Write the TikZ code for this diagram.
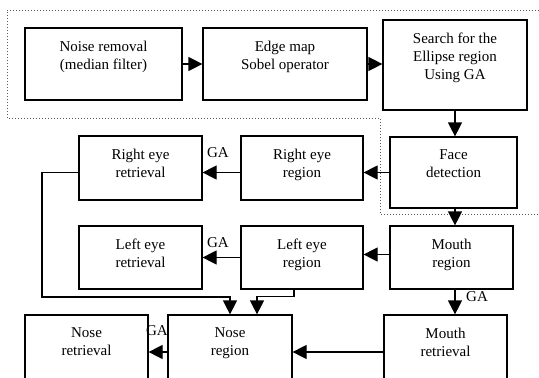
\documentclass[tikz,border=0pt]{standalone}
\usepackage{fontspec}
\setmainfont{Liberation Serif}
\usetikzlibrary{arrows.meta}
\begin{document}
\begin{tikzpicture}[x=1pt, y=-1pt,
		font=\fontsize{15}{18}\selectfont,
		box/.style={draw, line width=1.2pt, inner sep=0pt},
		lbl/.style={anchor=north, align=center, inner sep=0pt, yshift=-13.5pt},
		txt/.style={label={[lbl]north:#1}},
		arr/.style={line width=1.2pt, -{Triangle[length=14pt, width=14pt]}},
		ga/.style={inner sep=0pt}]
		\useasboundingbox (0,0) rectangle (539,378);
		
		% dotted region
		\draw[dotted, gray!70!black, line width=1pt] (539,10) -- (7,10) -- (7,118) -- (380,118) -- (380,214) -- (539,214);
		
		\node[box, minimum width=157, minimum height=72, txt={Noise removal\\(median filter)}] (noise) at (103.5,64) {};
		\node[box, minimum width=164, minimum height=72, txt={Edge map\\Sobel operator}] (edge) at (285,64) {};
		\node[box, minimum width=144, minimum height=90, txt={Search for the\\Ellipse region\\Using GA}] (search) at (455,65) {};
		\node[box, minimum width=127, minimum height=71, txt={Face\\detection}] (face) at (453.5,172.5) {};
		\node[box, minimum width=122, minimum height=64, txt={Right eye\\region}] (rreg) at (302,168) {};
		\node[box, minimum width=123, minimum height=64, txt={Right eye\\retrieval}] (rretr) at (140.5,168) {};
		\node[box, minimum width=123, minimum height=63, txt={Left eye\\retrieval}] (lretr) at (140.5,257.5) {};
		\node[box, minimum width=122, minimum height=63, txt={Left eye\\region}] (lreg) at (302,257.5) {};
		\node[box, minimum width=123, minimum height=63, txt={Mouth\\region}] (mreg) at (451.5,257.5) {};
		\node[box, minimum width=123, minimum height=74, txt={Nose\\retrieval}] (nretr) at (86.5,352) {};
		\node[box, minimum width=124, minimum height=74, txt={Nose\\region}] (nreg) at (230,352) {};
		\node[box, minimum width=123, minimum height=74, txt={Mouth\\retrieval}] (mretr) at (445.5,352) {};
		
		\draw[arr] (noise.east) -- (edge.west);
		\draw[arr] (edge.east) -- (edge.east -| search.west);
		\draw[arr] (search.south) -- (search.south |- face.north);
		\draw[arr] (face.west) -- (face.west -| rreg.east);
		\draw[arr] (rreg.west |- face.west) -- (rretr.east |- face.west);
		\draw[arr] (search.south |- face.south) -- (search.south |- mreg.north);
		\draw[arr] ([yshift=3pt]mreg.west) -- ([yshift=3pt]mreg.west -| lreg.east);
		\draw[arr] (lreg.west) -- (lretr.east);
		\draw[arr] (search.south |- mreg.south) -- (search.south |- mretr.north);
		\draw[arr] (mretr.west) -- (mretr.west -| nreg.east);
		\draw[arr] (nreg.west) -- (nretr.east);
		
		\coordinate (bend) at (42,297);
		\draw[arr] (rretr.west |- face.west) -| (bend) -| (nreg.north);
		\draw[arr] ([xshift=-8pt]lreg.south) -- ++(0,7) -| ([xshift=27pt]nreg.north);
		
		\node[ga] (ga1) at (218,153) {GA};
		\node[ga] (ga2) at (218,243) {GA};
		\node[ga] (ga3) at (157,331) {GA};
		\node[ga] (ga4) at (477,297) {GA};
	\end{tikzpicture}
\end{document}
